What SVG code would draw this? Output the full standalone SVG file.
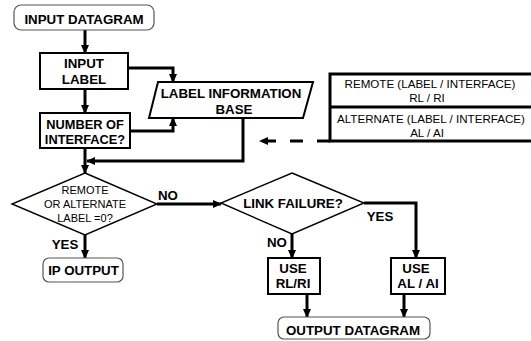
<svg xmlns="http://www.w3.org/2000/svg" width="531" height="341" viewBox="0 0 531 341">
<style>
.b{font-family:"Liberation Sans",Arial,sans-serif;font-weight:bold;font-size:13.3px;fill:#000;text-anchor:middle}
.s{font-size:12.8px}
.n{font-family:"Liberation Sans",Arial,sans-serif;font-size:11px;fill:#000;text-anchor:middle}
.t{font-family:"Liberation Sans",Arial,sans-serif;font-size:11.6px;fill:#000;text-anchor:middle}
.box{fill:#fff;stroke:#000;stroke-width:2}
.rnd{fill:#fff;stroke:#555;stroke-width:1.2}
.dia{fill:#fff;stroke:#000;stroke-width:1.4}
.c{fill:none;stroke:#000;stroke-width:3}
.tb{fill:none;stroke:#000;stroke-width:3}
</style>
<defs>
<marker id="ah" markerUnits="userSpaceOnUse" markerWidth="9" markerHeight="8" refX="8" refY="4" orient="auto">
<path d="M0,0 L9,4 L0,8 z" fill="#000"/>
</marker>
</defs>
<rect width="531" height="341" fill="#fff"/>

<g id="connectors">
<path class="c" d="M85,30 V53" marker-end="url(#ah)"/>
<path class="c" d="M85,89 V113" marker-end="url(#ah)"/>
<path class="c" d="M128,68 H173 V82" marker-end="url(#ah)"/>
<path class="c" d="M130,131 H173 V118" marker-end="url(#ah)"/>
<path class="c" d="M243,118 V161 H87" marker-end="url(#ah)"/>
<path class="c" d="M85,148 V173" marker-end="url(#ah)"/>
<path class="c" d="M157,204 H221" marker-end="url(#ah)"/>
<path class="c" d="M364,203 H416 V258" marker-end="url(#ah)"/>
<path class="c" d="M292,234 V258" marker-end="url(#ah)"/>
<path class="c" d="M85,235 V258" marker-end="url(#ah)"/>
<path class="c" d="M307,294 V317" marker-end="url(#ah)"/>
<path class="c" d="M404,294 V317" marker-end="url(#ah)"/>
<path class="c" d="M330,141 H260" stroke-dasharray="13,14" marker-end="url(#ah)"/>
</g>

<g id="input-datagram">
<rect class="rnd" x="14" y="5" width="140" height="25" rx="7"/>
<text class="b" x="84" y="23.5">INPUT DATAGRAM</text>
</g>

<g id="input-label">
<rect class="box" x="40" y="53" width="88" height="36"/>
<text class="b" x="84" y="68">INPUT</text>
<text class="b" x="84" y="84">LABEL</text>
</g>

<g id="number-of-interface">
<rect class="box" x="40" y="113" width="90" height="35"/>
<text class="b s" x="85" y="128.5">NUMBER OF</text>
<text class="b s" x="85" y="143.5">INTERFACE?</text>
</g>

<g id="label-information-base">
<polygon class="box" points="158,82 313,82 303,118 149,118"/>
<text class="b" x="231" y="98">LABEL INFORMATION</text>
<text class="b" x="234" y="114">BASE</text>
</g>

<g id="remote-alternate-table">
<path class="tb" d="M531,74 H330 V141 H531 M330,107 H531"/>
<text class="t" x="430" y="88">REMOTE (LABEL / INTERFACE)</text>
<text class="t" x="427" y="102">RL / RI</text>
<text class="t" x="431" y="123">ALTERNATE (LABEL / INTERFACE)</text>
<text class="t" x="427" y="137">AL / AI</text>
</g>

<g id="decision-label-zero">
<polygon class="dia" points="85,173 157,204 85,235 12,204"/>
<text class="n" x="85" y="194">REMOTE</text>
<text class="n" x="85" y="208">OR ALTERNATE</text>
<text class="n" x="85" y="222">LABEL =0?</text>
</g>

<g id="label-no1"><text class="b" x="168" y="200">NO</text></g>
<g id="label-yes1"><text class="b" x="65" y="249">YES</text></g>

<g id="ip-output">
<rect class="rnd" x="43" y="258" width="80" height="24" rx="6"/>
<text class="b" x="83.5" y="275">IP OUTPUT</text>
</g>

<g id="decision-link-failure">
<polygon class="dia" points="292,173 364,203 292,234 221,203"/>
<text class="b" x="293" y="208">LINK FAILURE?</text>
</g>

<g id="label-yes2"><text class="b" x="380" y="221">YES</text></g>
<g id="label-no2"><text class="b" x="277" y="247">NO</text></g>

<g id="use-rl-ri">
<rect class="box" x="268" y="258" width="52" height="36"/>
<text class="b" x="293" y="273">USE</text>
<text class="b" x="293" y="288">RL/RI</text>
</g>

<g id="use-al-ai">
<rect class="box" x="391" y="258" width="54" height="36"/>
<text class="b" x="416" y="273">USE</text>
<text class="b" x="418" y="288">AL / AI</text>
</g>

<g id="output-datagram">
<rect class="rnd" x="278" y="317" width="152" height="22" rx="6"/>
<text class="b" x="353" y="335">OUTPUT DATAGRAM</text>
</g>
</svg>
